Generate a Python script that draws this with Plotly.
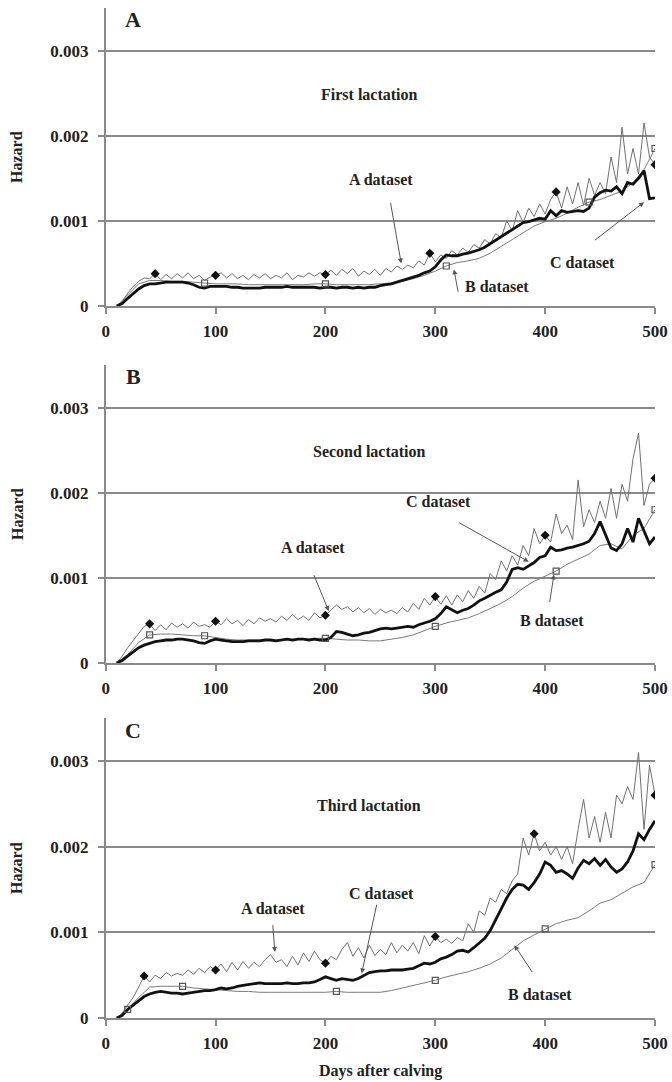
import plotly.graph_objects as go

# ---------------- data (hazard values in units of 1e-4) ----------------
UNIT = 1e-4
days5 = list(range(10, 501, 5))    # noisy / thick series
days10 = list(range(10, 501, 10))  # smooth series

# Panel A - First lactation
A1_A = [0, 0.5, 1.5, 2.3, 2.9, 3.3, 3.2, 3.8, 3.1, 3.7, 3.2, 3.8, 3.3, 3.9, 3.2, 3.6, 3.0, 3.4,
        3.6, 3.9, 3.3, 3.8, 3.2, 3.6, 3.1, 3.7, 3.3, 3.8, 3.2, 3.6, 3.3, 3.9, 3.1, 3.6, 3.4, 3.9,
        3.5, 3.9, 3.7, 4.2, 3.6, 4.3, 3.8, 4.4, 3.5, 4.1, 3.7, 4.3, 3.6, 4.4, 4.0, 4.7, 4.3, 4.8,
        4.5, 5.3, 4.8, 6.2, 5.2, 6.0, 5.6, 6.5, 6.0, 6.8, 6.3, 7.2, 6.8, 7.8, 7.3, 8.5, 8.0, 10.0,
        8.8, 11.2, 9.8, 11.5, 10.5, 12.0, 10.8, 12.5, 13.4, 11.5, 14.0, 12.0, 14.5, 11.8, 15.0,
        13.0, 14.5, 13.2, 17.5, 14.5, 21.0, 15.5, 18.5, 15.5, 21.5, 17.5, 16.6]
A1_C = [0, 0.3, 0.9, 1.5, 2.0, 2.4, 2.6, 2.6, 2.7, 2.8, 2.8, 2.8, 2.8, 2.7, 2.5, 2.2, 2.1, 2.3,
        2.3, 2.3, 2.3, 2.2, 2.2, 2.1, 2.1, 2.1, 2.1, 2.2, 2.2, 2.2, 2.2, 2.3, 2.2, 2.2, 2.2, 2.2,
        2.2, 2.1, 2.2, 2.2, 2.1, 2.2, 2.2, 2.1, 2.2, 2.1, 2.2, 2.2, 2.4, 2.5, 2.6, 2.8, 3.0, 3.2,
        3.4, 3.6, 3.9, 4.1, 4.6, 5.4, 6.0, 5.9, 5.9, 6.1, 6.2, 6.4, 6.6, 6.9, 7.3, 7.7, 8.2, 8.6,
        9.0, 9.4, 9.8, 9.9, 10.1, 10.3, 10.2, 11.2, 10.6, 11.2, 11.0, 11.1, 11.2, 11.1, 11.5,
        12.8, 13.3, 13.6, 13.5, 14.0, 13.2, 14.5, 14.3, 15.0, 15.9, 12.6, 12.7]
A1_B = [0, 1.3, 2.6, 3.0, 3.0, 2.9, 2.9, 2.8, 2.7, 2.6, 2.6, 2.6, 2.5, 2.5, 2.5, 2.5, 2.5, 2.5,
        2.6, 2.6, 2.5, 2.5, 2.5, 2.5, 2.6, 2.7, 2.9, 3.2, 3.6, 4.1, 4.7, 5.1, 5.3, 5.6, 6.2, 7.0,
        7.8, 8.6, 9.4, 9.9, 10.3, 10.9, 11.6, 12.2, 12.5, 13.0, 13.5, 14.5, 16.0, 18.5]

# Panel B - Second lactation
A2_A = [0, 0.8, 1.8, 2.6, 3.4, 4.3, 4.6, 3.8, 4.5, 3.9, 4.7, 4.2, 4.6, 4.1, 4.8, 4.3, 4.5, 4.2,
        4.9, 4.5, 5.2, 4.6, 5.0, 4.4, 5.1, 4.6, 5.3, 4.9, 5.2, 4.8, 5.5, 5.0, 5.7, 5.1, 5.5, 5.0,
        5.9, 5.3, 5.6, 6.2, 6.8, 6.3, 6.6, 6.0, 6.5, 5.9, 6.4, 5.7, 6.3, 5.9, 6.2, 5.8, 6.5, 6.0,
        7.0, 6.3, 7.6, 6.8, 7.8, 6.9, 7.9, 6.8, 8.0, 7.2, 8.5, 7.6, 9.0, 8.2, 10.5, 9.8, 12.0,
        10.8, 12.6, 11.5, 13.8, 12.6, 15.8, 14.0, 15.0, 14.2, 17.5, 15.2, 16.2, 14.5, 21.5, 16.0,
        18.0, 16.5, 19.0, 17.0, 20.5, 17.0, 21.0, 19.0, 24.0, 27.0, 18.5, 21.0, 21.7]
A2_C = [0, 0.3, 0.8, 1.3, 1.8, 2.1, 2.3, 2.5, 2.6, 2.7, 2.7, 2.8, 2.8, 2.7, 2.6, 2.4, 2.3, 2.6,
        2.8, 2.7, 2.6, 2.5, 2.5, 2.5, 2.6, 2.6, 2.6, 2.7, 2.7, 2.6, 2.7, 2.8, 2.7, 2.8, 2.8, 2.7,
        2.8, 2.7, 2.7, 3.0, 3.7, 3.6, 3.4, 3.2, 3.3, 3.5, 3.6, 3.8, 4.0, 4.1, 4.0, 4.1, 4.2, 4.3,
        4.2, 4.5, 4.7, 4.9, 5.2, 5.8, 6.6, 6.2, 5.9, 6.2, 6.4, 6.8, 7.3, 7.6, 8.0, 8.3, 8.6, 9.5,
        11.0, 11.2, 11.0, 11.4, 11.8, 12.4, 12.6, 13.6, 13.2, 13.3, 13.5, 13.6, 13.8, 14.0, 14.3,
        15.2, 16.6, 15.0, 13.5, 13.2, 14.0, 15.8, 14.2, 17.0, 15.5, 14.0, 14.8]
A2_B = [0, 1.0, 2.4, 3.3, 3.4, 3.4, 3.3, 3.2, 3.2, 3.0, 2.8, 2.7, 2.7, 2.7, 2.7, 2.7, 2.8, 2.8,
        2.9, 2.9, 2.8, 2.7, 2.7, 2.6, 2.6, 2.8, 3.0, 3.3, 3.8, 4.3, 4.7, 5.0, 5.3, 5.8, 6.4, 7.0,
        7.8, 8.8, 9.6, 10.2, 10.8, 11.6, 12.2, 12.8, 13.8, 14.0, 13.4, 15.0, 15.8, 18.0]

# Panel C - Third lactation
A3_A = [0, 0.6, 1.5, 2.4, 3.6, 4.9, 4.2, 5.0, 4.6, 5.3, 4.9, 5.2, 5.0, 5.6, 5.1, 5.8, 5.3, 6.0,
        5.6, 6.3, 5.4, 6.5, 5.6, 6.6, 5.8, 6.5, 6.0, 6.8, 7.4, 6.5, 6.8, 6.0, 7.2, 6.2, 7.6, 6.6,
        7.8, 6.8, 6.4, 7.2, 6.8, 8.0, 8.8, 7.2, 8.2, 7.0, 8.5, 7.3, 8.0, 7.4, 8.8, 7.6, 8.5, 7.8,
        8.8, 7.5, 9.6, 8.4, 9.5, 8.8, 9.2, 8.7, 9.4, 9.0, 11.0, 10.0, 12.5, 12.0, 14.0, 13.5,
        15.0, 14.5, 16.0, 16.8, 21.0, 19.0, 21.5, 19.5, 20.5, 19.0, 20.0, 18.5, 20.0, 18.0, 22.0,
        25.5, 21.0, 23.5, 20.5, 24.0, 21.0, 26.0, 25.0, 27.0, 25.5, 31.0, 22.0, 29.5, 26.0]
A3_C = [0, 0.3, 1.0, 1.5, 2.0, 2.5, 2.8, 3.0, 3.1, 3.0, 2.9, 2.9, 2.8, 2.9, 3.0, 3.1, 3.2, 3.2,
        3.3, 3.5, 3.4, 3.5, 3.7, 3.8, 3.9, 4.0, 4.1, 4.0, 4.0, 4.0, 4.0, 4.1, 4.0, 4.0, 4.1, 4.1,
        4.2, 4.5, 4.8, 4.6, 4.4, 4.6, 4.5, 4.4, 4.6, 5.0, 5.3, 5.4, 5.5, 5.5, 5.6, 5.6, 5.6, 5.7,
        5.8, 6.1, 6.4, 6.3, 6.5, 6.9, 7.1, 7.4, 7.8, 7.9, 7.7, 8.2, 8.8, 9.3, 10.2, 11.5, 12.8,
        14.0, 15.0, 15.6, 15.5, 15.0, 15.8, 16.8, 18.2, 17.8, 17.0, 17.2, 16.8, 16.3, 17.5, 18.4,
        18.0, 18.6, 17.8, 18.5, 17.6, 17.0, 17.4, 18.2, 19.5, 21.5, 20.8, 22.0, 23.0]
A3_B = [0, 1.0, 2.4, 3.6, 3.7, 3.7, 3.7, 3.5, 3.4, 3.3, 3.2, 3.1, 3.1, 3.0, 3.0, 3.0, 3.0, 3.0,
        3.0, 3.0, 3.1, 3.0, 3.0, 3.0, 3.0, 3.2, 3.5, 3.8, 4.1, 4.4, 4.8, 5.1, 5.4, 5.8, 6.3, 7.0,
        8.0, 9.0, 9.7, 10.4, 11.0, 11.4, 11.7, 12.5, 13.4, 13.8, 14.5, 15.3, 15.8, 17.9]

# marker days (symbols drawn on the series)
diamond_days = [[45, 100, 200, 295, 410, 500], [40, 100, 200, 300, 400, 500], [35, 100, 200, 300, 390, 500]]
square_days = [[90, 200, 310, 440, 500], [40, 90, 200, 300, 410, 500], [20, 70, 210, 300, 400, 500]]

panel_letters = ["A", "B", "C"]
panel_titles = ["First lactation", "Second lactation", "Third lactation"]
series = [(A1_A, A1_B, A1_C), (A2_A, A2_B, A2_C), (A3_A, A3_B, A3_C)]

y_ticks = [0, 0.001, 0.002, 0.003]
y_ticktext = ["0", "0.001", "0.002", "0.003"]
x_ticks = [0, 100, 200, 300, 400, 500]

# label positions: (text, text_x, text_y, arrow_tail_x, arrow_tail_y, tip_x, tip_y) in data units (y in 1e-4)
labels = [
    [("A dataset", 251, 14.8, 259, 12.3, 269, 5.0),
     ("B dataset", 356, 2.3, 321, 1.5, 317, 4.3),
     ("C dataset", 434, 5.1, 444, 7.6, 490, 12.2)],
    [("C dataset", 303, 19.0, 320, 16.6, 385, 11.9),
     ("A dataset", 189, 13.6, 189, 10.5, 203, 6.1),
     ("B dataset", 406, 5.0, 404, 7.0, 408, 10.4)],
    [("A dataset", 152, 12.8, 152, 11.0, 154, 7.7),
     ("C dataset", 251, 14.5, 247, 13.4, 233, 5.2),
     ("B dataset", 395, 2.7, 389, 5.2, 372, 8.5)],
]

# ---------------- figure ----------------
W, H = 672, 1082
FONT = "Liberation Serif"
x_dom = [105.7 / W, 655.0 / W]
panel_px = [(8, 306), (365, 663), (718, 1018)]

fig = go.Figure()
annotations = []

for i in range(3):
    sA, sB, sC = series[i]
    xa = "x" if i == 0 else f"x{i+1}"
    ya = "y" if i == 0 else f"y{i+1}"
    yA = [v * UNIT for v in sA]
    yB = [v * UNIT for v in sB]
    yC = [v * UNIT for v in sC]

    fig.add_trace(go.Scatter(x=days5, y=yA, mode="lines", xaxis=xa, yaxis=ya,
                             line=dict(color="#707070", width=1), showlegend=False))
    fig.add_trace(go.Scatter(x=days10, y=yB, mode="lines", xaxis=xa, yaxis=ya,
                             line=dict(color="#7a7a7a", width=1), showlegend=False))
    fig.add_trace(go.Scatter(x=days5, y=yC, mode="lines", xaxis=xa, yaxis=ya,
                             line=dict(color="#111111", width=2.8), showlegend=False))
    di = [days5.index(d) for d in diamond_days[i]]
    fig.add_trace(go.Scatter(x=[days5[k] for k in di], y=[yA[k] for k in di], mode="markers",
                             xaxis=xa, yaxis=ya, showlegend=False,
                             marker=dict(symbol="diamond", size=7, color="#111111")))
    si = [days10.index(d) for d in square_days[i]]
    fig.add_trace(go.Scatter(x=[days10[k] for k in si], y=[yB[k] for k in si], mode="markers",
                             xaxis=xa, yaxis=ya, showlegend=False,
                             marker=dict(symbol="square-open", size=6, color="#555555",
                                         line=dict(width=1.2))))

    top, bot = panel_px[i]
    dom = [1 - bot / H, 1 - top / H]
    axis_common = dict(showline=True, linecolor="#8a8a8a", linewidth=1.5, ticks="outside",
                       tickcolor="#8a8a8a", ticklen=6, tickwidth=1.5, zeroline=False,
                       tickfont=dict(family=FONT, size=17, color="#222222", weight="bold"),
                       automargin=False)
    fig.update_layout(**{
        ("xaxis" if i == 0 else f"xaxis{i+1}"): dict(
            domain=x_dom, anchor=ya, range=[0, 500], tickvals=x_ticks, showgrid=False,
            ticklabelstandoff=3, **axis_common),
        ("yaxis" if i == 0 else f"yaxis{i+1}"): dict(
            domain=dom, anchor=xa, range=[0, 0.0035], tickvals=y_ticks, ticktext=y_ticktext,
            showgrid=True, gridcolor="#8a8a8a", gridwidth=2, ticklabelstandoff=6, **axis_common),
    })

    # Hazard title
    annotations.append(dict(text="Hazard", xref="paper", yref="paper", x=17 / W,
                            y=(dom[0] + dom[1]) / 2, textangle=-90, showarrow=False,
                            xanchor="center", yanchor="middle",
                            font=dict(family=FONT, size=16, color="#222222", weight="bold")))
    # panel letter
    annotations.append(dict(text=panel_letters[i], xref=xa, yref=ya, x=25, y=33.6 * UNIT,
                            showarrow=False, xanchor="center", yanchor="middle",
                            font=dict(family=FONT, size=22, color="#222222", weight="bold")))
    # panel title
    annotations.append(dict(text=panel_titles[i], xref=xa, yref=ya, x=240, y=24.8 * UNIT,
                            showarrow=False, xanchor="center", yanchor="middle",
                            font=dict(family=FONT, size=16, color="#222222", weight="bold")))
    for (t, tx, ty, axx, ayy, px, py) in labels[i]:
        annotations.append(dict(text=t, xref=xa, yref=ya, x=tx, y=ty * UNIT, showarrow=False,
                                xanchor="center", yanchor="middle",
                                font=dict(family=FONT, size=16, color="#222222", weight="bold")))
        annotations.append(dict(text="", xref=xa, yref=ya, x=px, y=py * UNIT,
                                axref=xa, ayref=ya, ax=axx, ay=ayy * UNIT, showarrow=True,
                                arrowhead=2, arrowsize=1, arrowwidth=1, arrowcolor="#555555",
                                standoff=0, startstandoff=0))

annotations.append(dict(text="Days after calving", xref="paper", yref="paper", x=380 / W,
                        y=1 - 1071 / H, showarrow=False, xanchor="center", yanchor="middle",
                        font=dict(family=FONT, size=16, color="#222222", weight="bold")))

fig.update_layout(width=W, height=H, margin=dict(l=0, r=0, t=0, b=0),
                  paper_bgcolor="white", plot_bgcolor="white", annotations=annotations)

fig.write_html("out.html")
